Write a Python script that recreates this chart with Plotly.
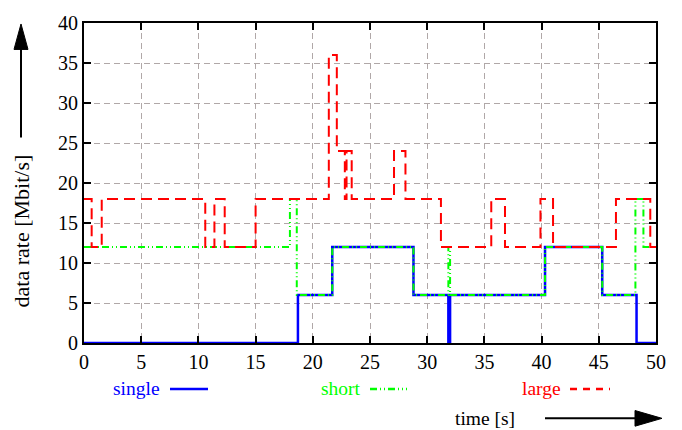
import plotly.graph_objects as go

# ---- data (step series, value holds until next time) ----
single_t = [0, 18.7, 21.7, 28.8, 31.85, 32.0, 40.3, 45.3, 48.3, 50]
single_v = [0, 6, 12, 6, 0, 6, 12, 6, 0, 0]

short_t = [0, 18.0, 18.6, 21.7, 28.8, 31.85, 32.0, 40.3, 45.3, 48.2, 48.9, 50]
short_v = [12, 18, 6, 12, 6, 12, 6, 12, 6, 18, 12, 12]

large_t = [0, 0.67, 1.55, 10.6, 11.4, 12.3, 15.0, 21.4, 22.1, 22.8, 22.95, 23.4,
           27.1, 28.1, 31.2, 35.6, 36.8, 39.9, 41.0, 46.5, 49.5, 50]
large_v = [18, 12, 18, 12, 18, 12, 18, 36, 24, 18, 24, 18,
           24, 18, 12, 18, 12, 18, 12, 18, 12, 12]

series_names = ["single", "short", "large"]
x_ticks = [0, 5, 10, 15, 20, 25, 30, 35, 40, 45, 50]
y_ticks = [0, 5, 10, 15, 20, 25, 30, 35, 40]

BLUE = "#0000ff"
GREEN = "#00ff00"
RED = "#ff0000"
FONT = "Liberation Serif"

L, R, T, B = 84, 26, 16, 87
W, H = 682, 430
PW, PH = W - L - R, H - T - B


def px(x):
    return (x - L) / PW


def py(y):
    return (H - B - y) / PH


fig = go.Figure()
fig.add_trace(go.Scatter(x=single_t, y=single_v, mode="lines", line_shape="hv",
                         line=dict(color=BLUE, width=2.5), name=series_names[0],
                         cliponaxis=False))
fig.add_trace(go.Scatter(x=short_t, y=short_v, mode="lines", line_shape="hv",
                         line=dict(color=GREEN, width=2,
                                   dash="7px,3px,1px,3px,1px,3px"),
                         name=series_names[1], cliponaxis=False))
fig.add_trace(go.Scatter(x=large_t, y=large_v, mode="lines", line_shape="hv",
                         line=dict(color=RED, width=2, dash="11px,6px"),
                         name=series_names[2], cliponaxis=False))

axis_common = dict(
    showline=True, linecolor="black", linewidth=2, mirror="allticks",
    ticks="inside", ticklen=7, tickwidth=1.5, tickcolor="black",
    showgrid=True, gridcolor="#b0a8a8", gridwidth=1, griddash="6px,4px",
    zeroline=False, tickfont=dict(family=FONT, size=20, color="black"),
)
fig.update_xaxes(range=[0, 50], tickvals=x_ticks, ticktext=[str(v) for v in x_ticks],
                 **axis_common)
fig.update_yaxes(range=[0, 40], tickvals=y_ticks, ticktext=[str(v) for v in y_ticks],
                 **axis_common)

shapes = []
annotations = []

# legend (text followed by line sample)
legend_items = [
    (series_names[0], BLUE, "solid", 162, 170, 208),
    (series_names[1], GREEN, "7px,3px,1px,3px,1px,3px", 363, 370, 407),
    (series_names[2], RED, "7px,6px", 563, 570, 610),
]
for name, col, dash, tx, lx0, lx1 in legend_items:
    annotations.append(dict(x=px(tx), y=py(390), xref="paper", yref="paper",
                            text=name, showarrow=False, xanchor="right",
                            yanchor="middle",
                            font=dict(family=FONT, size=19.5, color=col)))
    shapes.append(dict(type="line", xref="paper", yref="paper",
                       x0=px(lx0), x1=px(lx1), y0=py(390), y1=py(390),
                       line=dict(color=col, width=2.5, dash=dash)))

# x label + arrow
annotations.append(dict(x=px(485), y=py(420), xref="paper", yref="paper",
                        text="time [s]", showarrow=False, xanchor="center",
                        yanchor="middle",
                        font=dict(family=FONT, size=19.5, color="black")))
shapes.append(dict(type="line", xref="paper", yref="paper",
                   x0=px(545), x1=px(640), y0=py(420), y1=py(420),
                   line=dict(color="black", width=2)))
shapes.append(dict(type="path", xref="paper", yref="paper",
                   path=f"M {px(662)} {py(420)} L {px(635)} {py(412)} L {px(635)} {py(428)} Z",
                   fillcolor="black", line=dict(color="black", width=1)))

# y label + arrow
annotations.append(dict(x=px(21), y=py(229), xref="paper", yref="paper",
                        text="data rate [Mbit/s]", showarrow=False, textangle=-90,
                        xanchor="center", yanchor="middle",
                        font=dict(family=FONT, size=22, color="black")))
shapes.append(dict(type="line", xref="paper", yref="paper",
                   x0=px(21), x1=px(21), y0=py(133), y1=py(40),
                   line=dict(color="black", width=2)))
shapes.append(dict(type="path", xref="paper", yref="paper",
                   path=f"M {px(21)} {py(17)} L {px(14)} {py(43)} L {px(28)} {py(43)} Z",
                   fillcolor="black", line=dict(color="black", width=1)))

fig.update_layout(
    width=W, height=H,
    margin=dict(l=L, r=R, t=T, b=B, pad=0),
    paper_bgcolor="white", plot_bgcolor="white",
    showlegend=False,
    shapes=shapes, annotations=annotations,
    font=dict(family=FONT, color="black"),
)

fig.write_html("out.html")
